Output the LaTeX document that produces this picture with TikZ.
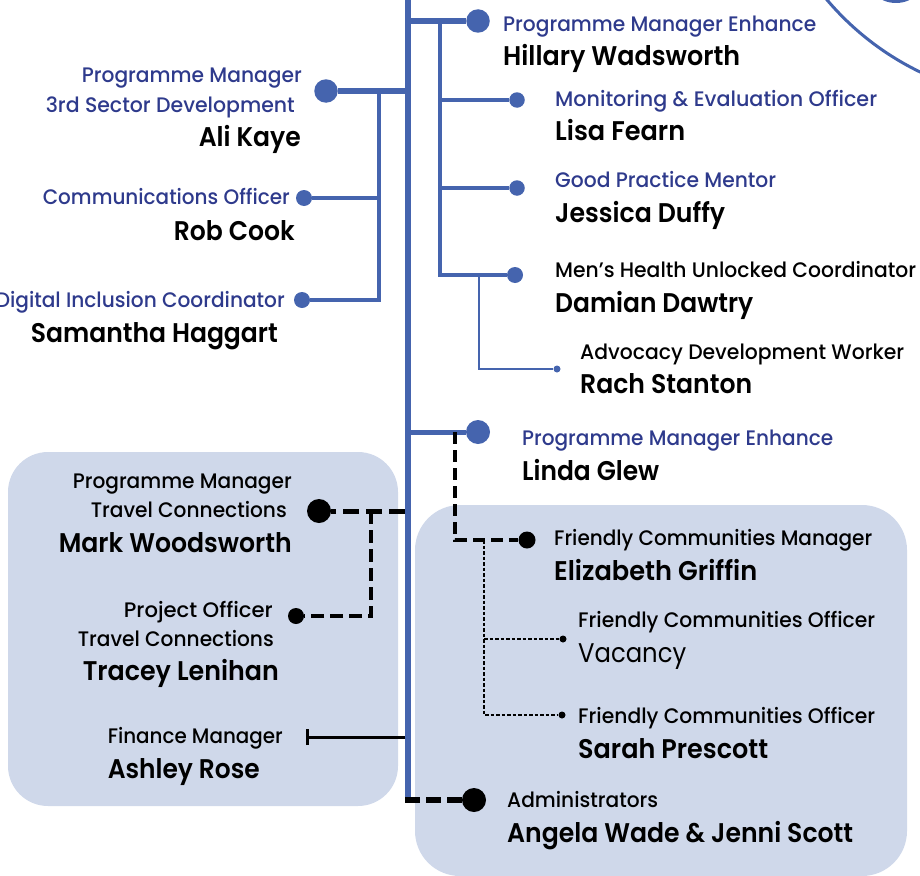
\documentclass[tikz,border=0pt]{standalone}
\usepackage{fontspec}
\usepackage{graphicx}
\setmainfont{Poppins}
\newfontfamily\medfont{Poppins Medium}
\newfontfamily\sbfont{Poppins SemiBold}
\usetikzlibrary{arrows.meta}
\definecolor{lineblue}{HTML}{4564AE}
\definecolor{titleblue}{HTML}{2E3A8C}
\definecolor{boxfill}{HTML}{CFD8EA}
\newcommand\fitw[2]{\resizebox{#1pt}{\height}{#2}}
\tikzset{
  ttl/.style={inner sep=0pt, font=\medfont\fontsize{21}{21}\selectfont, text=titleblue},
  ttk/.style={inner sep=0pt, font=\medfont\fontsize{21}{21}\selectfont, text=black},
  nm/.style={inner sep=0pt, font=\sbfont\fontsize{27}{27}\selectfont, text=black},
  vac/.style={inner sep=0pt, font=\fontsize{27}{27}\selectfont, text=black},
  L/.style={anchor=base west},
  R/.style={anchor=base east},
  bdot/.style={circle, fill=lineblue, inner sep=0pt, minimum size=#1},
  kdot/.style={circle, fill=black, inner sep=0pt, minimum size=#1},
  bl/.style={draw=lineblue, line width=#1},
  kdash/.style={draw=black, line width=#1, dash pattern=on 12pt off 6pt},
  fdash/.style={draw=black, line width=1.5pt, dash pattern=on 3.5pt off 2pt},
}
\begin{document}
\begin{tikzpicture}[x=1pt, y=-1pt]
\useasboundingbox (0,0) rectangle (920,875);
\clip (0,0) rectangle (920,875);
% boxes
\fill[boxfill, rounded corners=40pt] (8,452) rectangle (398,806);
\fill[boxfill, rounded corners=45pt] (415,505) rectangle (907,876);
% top-right decoration
\draw[lineblue, line width=3pt] (1043,-183) circle[radius=283pt];
\fill[lineblue] (896,-29) circle[radius=32pt];
% trunk
\coordinate (T0) at (408,-5);
\coordinate (T1) at (408,797);
\draw[bl=6.5pt] (T0) -- (T1);
% dots
\node[bdot=23.5pt] (dPME1) at (478,21) {};
\node[bdot=15.5pt] (dME) at (517,100) {};
\node[bdot=15.5pt] (dGPM) at (517,188) {};
\node[bdot=16pt] (dMHU) at (515,275) {};
\node[bdot=7pt] (dADV) at (557,369) {};
\node[bdot=23.5pt] (dPM3) at (326,91) {};
\node[bdot=16pt] (dCOM) at (304,198) {};
\node[bdot=16pt] (dDIG) at (302,300) {};
\node[bdot=24pt] (dPME2) at (478,432) {};
\node[kdot=17pt] (dFCM) at (527,540) {};
\node[kdot=7pt] (dFCO1) at (563,639) {};
\node[kdot=7pt] (dFCO2) at (562,715) {};
\node[kdot=24pt] (dADM) at (474,800) {};
\node[kdot=24pt] (dMW) at (319,511) {};
\node[kdot=16pt] (dTL) at (296,616) {};
% junction coordinates
\coordinate (J1) at (408,21);
\coordinate (J2) at (440,21);
\coordinate (J3) at (440,100);
\coordinate (J4) at (440,188);
\coordinate (J5) at (479,275);
\coordinate (K1) at (408,91);
\coordinate (K2) at (379,91);
\coordinate (K3) at (379,198);
\coordinate (L1) at (408,432);
\coordinate (L2) at (455,432);
\coordinate (L3) at (484,540);
\coordinate (L4) at (484,639);
\coordinate (A1) at (405,800);
\coordinate (M1) at (405,511);
\coordinate (M2) at (371,511);
\coordinate (F1) at (405,737);
\coordinate (F2) at (306,737);
% blue connectors
\draw[bl=6pt] (J1) -- (dPME1);
\draw[bl=4pt] (J2) |- (dMHU);
\draw[bl=4pt] (J3) -- (dME);
\draw[bl=4pt] (J4) -- (dGPM);
\draw[bl=2.2pt] (J5) |- (dADV);
\draw[bl=5.5pt] (K1) -- (dPM3);
\draw[bl=4pt] (K2) |- (dDIG);
\draw[bl=4pt] (K3) -- (dCOM);
\draw[bl=5pt] (L1) -- (dPME2);
% black connectors
\draw[kdash=4pt] (L2) |- (dFCM);
\draw[fdash] (L3) |- (dFCO2);
\draw[fdash] (L4) -- (dFCO1);
\draw[kdash=6pt, dash pattern=on 15pt off 6pt] (A1) -- (dADM);
\draw[kdash=5pt, dash pattern=on 16pt off 7pt] (M1) -- (dMW);
\draw[kdash=4pt, dash pattern=on 13pt off 6pt] (M2) |- (dTL);
\draw[black, line width=3pt, -{Bar[width=16pt, line width=3pt]}] (F1) -- (F2);
% right texts
\node[ttl,L] (t1) at (503,31) {\fitw{313}{Programme Manager Enhance}};
\node[nm,L] (n1) at (503,65) {\fitw{237}{Hillary Wadsworth}};
\node[ttl,L] (t2) at (555,106) {\fitw{322}{Monitoring \& Evaluation Officer}};
\node[nm,L] (n2) at (555,140) {\fitw{130}{Lisa Fearn}};
\node[ttl,L] (t3) at (555,187) {\fitw{221}{Good Practice Mentor}};
\node[nm,L] (n3) at (555,222) {\fitw{170}{Jessica Duffy}};
\node[ttk,L] (t4) at (555,277) {\fitw{361}{Men’s Health Unlocked Coordinator}};
\node[nm,L] (n4) at (555,312) {\fitw{198}{Damian Dawtry}};
\node[ttk,L] (t5) at (580,359) {\fitw{324}{Advocacy Development Worker}};
\node[nm,L] (n5) at (580,393) {\fitw{172}{Rach Stanton}};
\node[ttl,L] (t6) at (522,445) {\fitw{311}{Programme Manager Enhance}};
\node[nm,L] (n6) at (522,480) {\fitw{137}{Linda Glew}};
\node[ttk,L] (t7) at (554,545) {\fitw{318}{Friendly Communities Manager}};
\node[nm,L] (n7) at (554,580) {\fitw{203}{Elizabeth Griffin}};
\node[ttk,L] (t8) at (578,627) {\fitw{297}{Friendly Communities Officer}};
\node[vac,L] (n8) at (578,662) {\fitw{108}{Vacancy}};
\node[ttk,L] (t9) at (578,723) {\fitw{297}{Friendly Communities Officer}};
\node[nm,L] (n9) at (578,758) {\fitw{190}{Sarah Prescott}};
\node[ttk,L] (t10) at (507,807) {\fitw{151}{Administrators}};
\node[nm,L] (n10) at (507,842) {\fitw{346}{Angela Wade \& Jenni Scott}};
% left texts
\node[ttl,R] (u1) at (302,83) {\fitw{220}{Programme Manager}};
\node[ttl,R] (u1b) at (295,112) {\fitw{249}{3rd Sector Development}};
\node[nm,R] (m1) at (301,146) {\fitw{102}{Ali Kaye}};
\node[ttl,R] (u2) at (290,204) {\fitw{247}{Communications Officer}};
\node[nm,R] (m2) at (295,240) {\fitw{121}{Rob Cook}};
\node[ttl,R] (u3) at (285,307) {\fitw{289}{Digital Inclusion Coordinator}};
\node[nm,R] (m3) at (278,342) {\fitw{247}{Samantha Haggart}};
\node[ttk,R] (u4) at (292,488) {\fitw{219}{Programme Manager}};
\node[ttk,R] (u4b) at (287,517) {\fitw{196}{Travel Connections}};
\node[nm,R] (m4) at (292,552) {\fitw{233}{Mark Woodsworth}};
\node[ttk,R] (u5) at (273,617) {\fitw{149}{Project Officer}};
\node[ttk,R] (u5b) at (274,646) {\fitw{196}{Travel Connections}};
\node[nm,R] (m5) at (279,680) {\fitw{196}{Tracey Lenihan}};
\node[ttk,R] (u6) at (283,743) {\fitw{175}{Finance Manager}};
\node[nm,R] (m6) at (260,778) {\fitw{152}{Ashley Rose}};
\end{tikzpicture}
\end{document}
